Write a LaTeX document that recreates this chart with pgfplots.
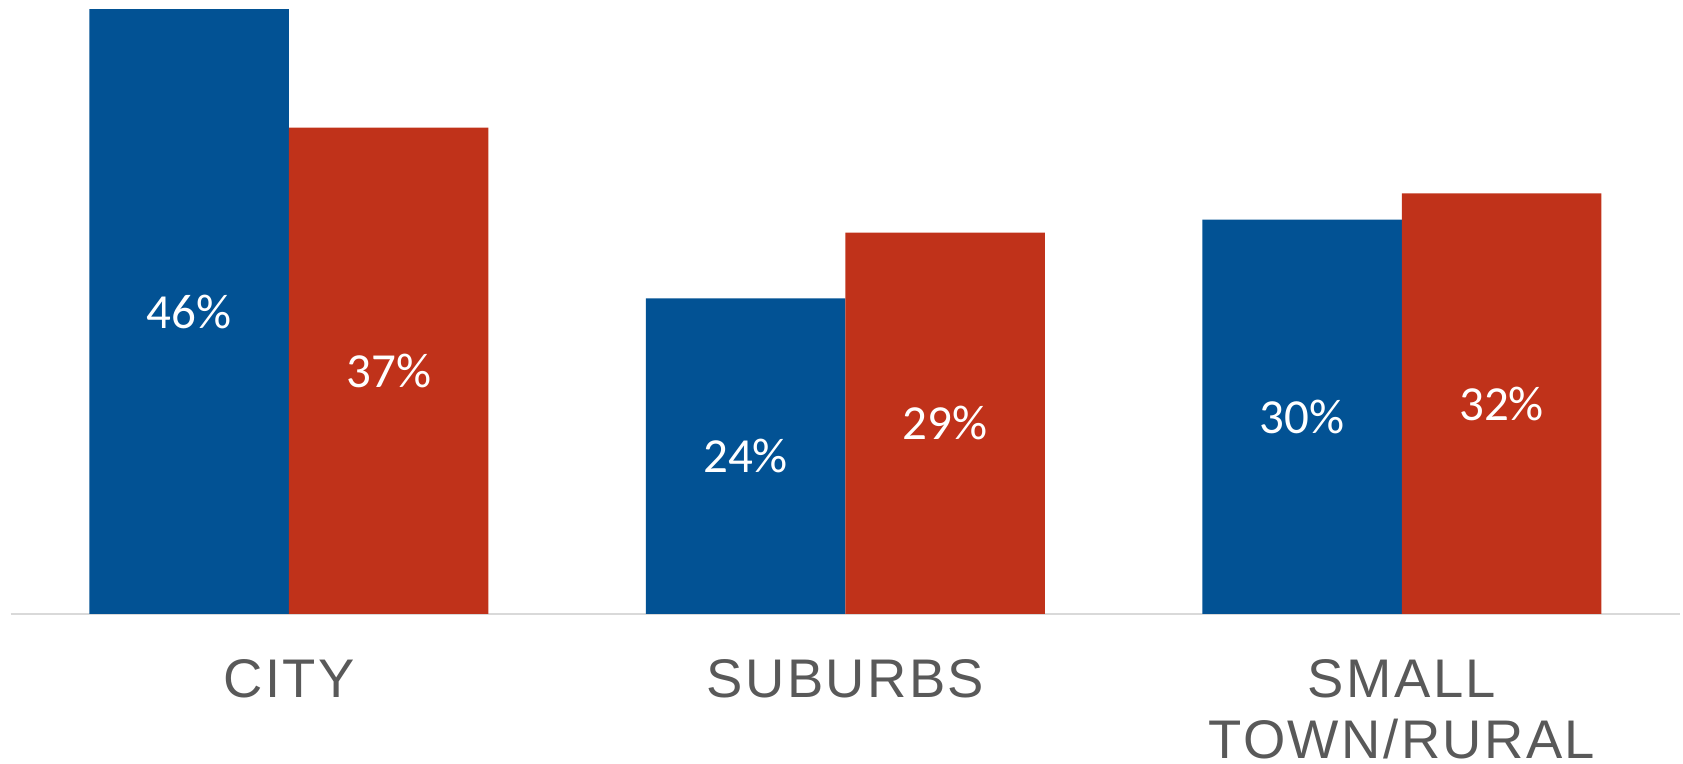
\documentclass[border=0pt]{standalone}
\usepackage{fontspec}
\setmainfont{Liberation Sans}[LetterSpace=4.5]
\newfontfamily\calib{Carlito}
\usepackage{pgfplots}
\pgfplotsset{compat=1.18}
\definecolor{cblue}{HTML}{025294}
\definecolor{cred}{HTML}{C0321A}
\definecolor{lgray}{HTML}{D9D9D9}
\definecolor{tgray}{HTML}{595959}
\begin{document}
\begin{tikzpicture}
\begin{axis}[
  at={(0,0)}, anchor=south west,
  scale only axis, width=834.7pt, height=307pt,
  xmin=-0.5, xmax=2.5, ymin=0, ymax=46.7,
  axis x line*=bottom, hide y axis,
  x axis line style={-, draw=lgray, line width=1pt},
  xtick={0,1},
  xticklabels={CITY, SUBURBS},
  extra x ticks={2},
  extra x tick labels={{SMALL\\TOWN/RURAL}},
  extra x tick style={xticklabel style={yshift=-30.5pt}},
  major tick length=0pt,
  xticklabel style={font=\fontsize{27.2}{30.5}\selectfont, text=tgray, align=center, anchor=base, yshift=-42pt, inner sep=0pt},
  clip=false,
]
\addplot[ybar, bar width=0.3585, bar shift=-0.17925, fill=cblue, draw=none] coordinates {(0,46) (1,24) (2,30)};
\addplot[ybar, bar width=0.3585, bar shift=0.17925, fill=cred, draw=none] coordinates {(0,37) (1,29) (2,32)};
\addplot[draw=none, mark=none,
  point meta=explicit symbolic, nodes near coords,
  every node near coord/.append style={anchor=center, text=white, font=\calib\fontsize{24.5}{29}\selectfont}]
  coordinates {(-0.17925,23) [46\%] (0.82075,12) [24\%] (1.82075,15) [30\%]};
\addplot[draw=none, mark=none,
  point meta=explicit symbolic, nodes near coords,
  every node near coord/.append style={anchor=center, text=white, font=\calib\fontsize{24.5}{29}\selectfont}]
  coordinates {(0.17925,18.5) [37\%] (1.17925,14.5) [29\%] (2.17925,16) [32\%]};
\end{axis}
\pgfresetboundingbox
\path[use as bounding box] (-5.35pt,-75pt) rectangle (836.15pt,307pt);
\end{tikzpicture}
\end{document}
